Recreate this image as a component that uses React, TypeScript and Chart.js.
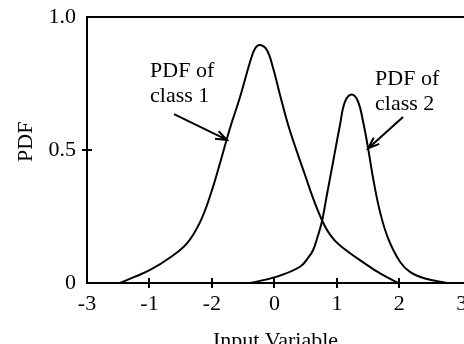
import React, { useEffect, useRef } from "react";
import { Chart, registerables } from "chart.js";

Chart.register(...registerables);

// Class 1 probability density (x in axis units, y = PDF)
const class1X = [-2.47, -2.23, -1.99, -1.67, -1.4, -1.19, -1.03, -0.87, -0.71, -0.55, -0.39, -0.31, -0.23, -0.12, -0.02, 0.09, 0.22, 0.36, 0.49, 0.62, 0.76, 0.89, 1.05, 1.48, 1.72, 1.98];
const class1Y = [0, 0.024, 0.049, 0.096, 0.149, 0.229, 0.327, 0.451, 0.583, 0.699, 0.831, 0.882, 0.895, 0.876, 0.807, 0.707, 0.594, 0.494, 0.406, 0.318, 0.237, 0.182, 0.141, 0.068, 0.032, 0];

// Class 2 probability density
const class2X = [-0.39, 0.04, 0.41, 0.55, 0.62, 0.69, 0.76, 0.84, 0.94, 1.05, 1.13, 1.24, 1.34, 1.42, 1.5, 1.58, 1.69, 1.82, 2.01, 2.17, 2.41, 2.76];
const class2Y = [0, 0.024, 0.061, 0.098, 0.124, 0.173, 0.23, 0.331, 0.456, 0.594, 0.682, 0.709, 0.682, 0.606, 0.506, 0.394, 0.268, 0.168, 0.08, 0.042, 0.017, 0];

// Axis ticks
const xTickValues = [-3, -2, -1, 0, 1, 2, 3];
const xTickLabels = ["-3", "-1", "-2", "0", "1", "2", "3"];
const yTickValues = [0, 0.5, 1];
const yTickLabels = ["0", "0.5", "1.0"];

const xTitle = "Input Variable";
const yTitle = "PDF";

// Callout labels with arrows, anchored in data units
const class1Label = ["PDF of", "class 1"];
const class2Label = ["PDF of", "class 2"];
const callouts = [
  { lines: class1Label, at: [-1.99, 0.776], from: [-1.607, 0.635], to: [-0.76, 0.538] },
  { lines: class2Label, at: [1.611, 0.744], from: [2.059, 0.624], to: [1.5, 0.506] },
];

const FONT = '"Liberation Serif", "Times New Roman", serif';
const FONT_SIZE = 22;

const toPoints = (xs: number[], ys: number[]) => xs.map((x, i) => ({ x, y: ys[i] }));

const framePlugin = {
  id: "frameAndCallouts",
  afterDraw(chart: any) {
    const { ctx, chartArea: a, scales } = chart;
    const sx = scales.x;
    const sy = scales.y;
    ctx.save();
    ctx.strokeStyle = "#000";
    ctx.lineWidth = 2;
    ctx.lineCap = "butt";
    ctx.beginPath();
    // top edge of the frame
    ctx.moveTo(a.left - 1, a.top);
    ctx.lineTo(a.right, a.top);
    // inner halves of the interior tick marks
    xTickValues.slice(1, -1).forEach((v) => {
      const px = Math.round(sx.getPixelForValue(v));
      ctx.moveTo(px, a.bottom);
      ctx.lineTo(px, a.bottom - 5);
    });
    yTickValues.slice(1, -1).forEach((v) => {
      const py = Math.round(sy.getPixelForValue(v));
      ctx.moveTo(a.left, py);
      ctx.lineTo(a.left + 5, py);
    });
    ctx.stroke();

    // callouts
    ctx.fillStyle = "#000";
    ctx.font = `${FONT_SIZE}px ${FONT}`;
    ctx.textAlign = "left";
    ctx.textBaseline = "alphabetic";
    callouts.forEach((c) => {
      const tx = sx.getPixelForValue(c.at[0]);
      const ty = sy.getPixelForValue(c.at[1]);
      c.lines.forEach((line, i) => ctx.fillText(line, tx, ty + i * 25));
      const x0 = sx.getPixelForValue(c.from[0]);
      const y0 = sy.getPixelForValue(c.from[1]);
      const x1 = sx.getPixelForValue(c.to[0]);
      const y1 = sy.getPixelForValue(c.to[1]);
      const ang = Math.atan2(y1 - y0, x1 - x0);
      const head = 12;
      const spread = (20 * Math.PI) / 180;
      ctx.beginPath();
      ctx.moveTo(x0, y0);
      ctx.lineTo(x1, y1);
      ctx.moveTo(x1 - head * Math.cos(ang - spread), y1 - head * Math.sin(ang - spread));
      ctx.lineTo(x1, y1);
      ctx.lineTo(x1 - head * Math.cos(ang + spread), y1 - head * Math.sin(ang + spread));
      ctx.stroke();
    });
    ctx.restore();
  },
};

export default function App() {
  const canvasRef = useRef<HTMLCanvasElement | null>(null);

  useEffect(() => {
    if (!canvasRef.current) return;
    const tickFont = { family: FONT, size: FONT_SIZE };
    const lineStyle = {
      borderColor: "#000",
      borderWidth: 2,
      pointRadius: 0,
      fill: false,
      tension: 0.4,
    };
    const chart = new Chart(canvasRef.current, {
      type: "line",
      data: {
        datasets: [
          { label: "class 1", data: toPoints(class1X, class1Y), ...lineStyle },
          { label: "class 2", data: toPoints(class2X, class2Y), ...lineStyle },
        ],
      },
      options: {
        responsive: false,
        animation: false,
        events: [],
        layout: { padding: { top: 9, left: 0, right: 0, bottom: 0 } },
        plugins: { legend: { display: false }, tooltip: { enabled: false } },
        scales: {
          x: {
            type: "linear",
            min: -3,
            max: 3.035,
            afterBuildTicks: (s: any) => {
              s.ticks = xTickValues.map((value) => ({ value }));
            },
            afterFit: (s: any) => {
              s.height = 61;
              s.paddingLeft = 0;
              s.paddingRight = 0;
            },
            ticks: {
              autoSkip: false,
              maxRotation: 0,
              padding: 3,
              color: "#000",
              font: tickFont,
              callback: (_v: any, i: number) => xTickLabels[i],
            },
            grid: {
              drawOnChartArea: false,
              tickLength: 5,
              lineWidth: 2,
              color: (c: any) => (c.index > 0 && c.index < xTickValues.length - 1 ? "#000" : "rgba(0,0,0,0)"),
            },
            border: { display: true, color: "#000", width: 2 },
            title: {
              display: true,
              text: xTitle,
              color: "#000",
              font: tickFont,
              padding: { top: 0, bottom: -10 },
            },
          },
          y: {
            type: "linear",
            min: 0,
            max: 1,
            afterBuildTicks: (s: any) => {
              s.ticks = yTickValues.map((value) => ({ value }));
            },
            afterFit: (s: any) => {
              s.width = 79;
              s.paddingTop = 0;
              s.paddingBottom = 0;
            },
            ticks: {
              autoSkip: false,
              padding: 6,
              color: "#000",
              font: tickFont,
              labelOffset: (c: any) => (c.index === 0 ? -3 : c.index === yTickValues.length - 1 ? 3.5 : 0),
              callback: (_v: any, i: number) => yTickLabels[i],
            },
            grid: {
              drawOnChartArea: false,
              tickLength: 5,
              lineWidth: 2,
              color: (c: any) => (c.index > 0 && c.index < yTickValues.length - 1 ? "#000" : "rgba(0,0,0,0)"),
            },
            border: { display: true, color: "#000", width: 2 },
            title: {
              display: true,
              text: "   " + yTitle,
              color: "#000",
              font: tickFont,
              padding: { top: 5, bottom: 0 },
            },
          },
        },
      },
      plugins: [framePlugin],
    });
    return () => chart.destroy();
  }, []);

  return (
    <canvas
      ref={canvasRef}
      width={456}
      height={336}
      style={{ display: "block", position: "absolute", left: 8, top: 8 }}
    />
  );
}
